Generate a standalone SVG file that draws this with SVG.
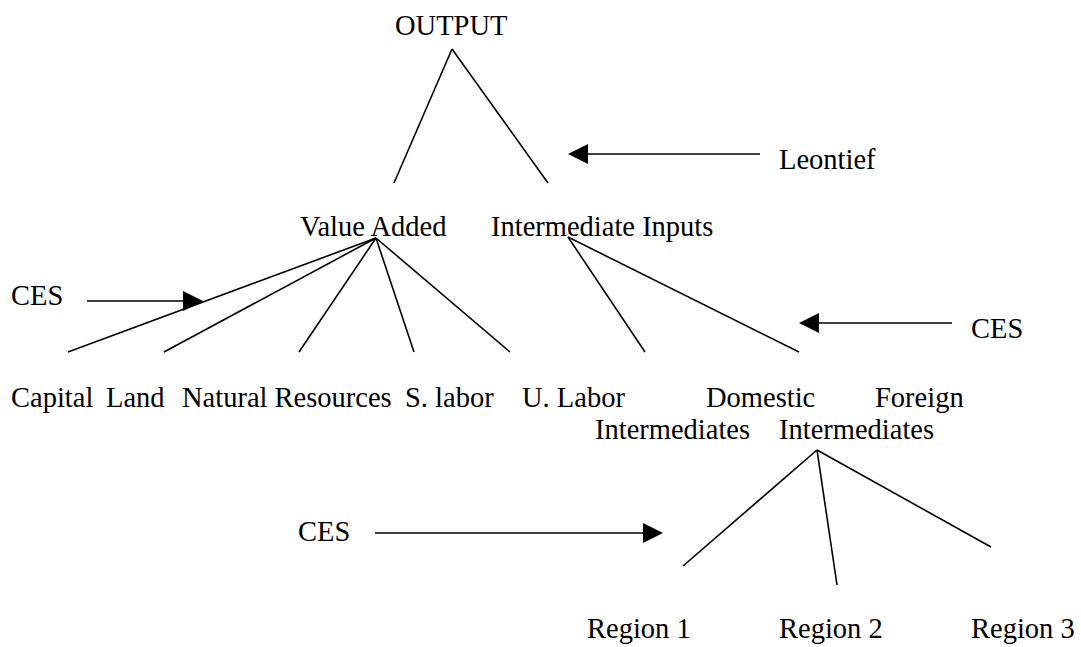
<svg xmlns="http://www.w3.org/2000/svg" width="1081" height="647" viewBox="0 0 1081 647">
<style>
text{font-family:"Liberation Serif","Times New Roman",serif;font-size:28.5px;fill:#000}
.c line{stroke:#000;stroke-width:1.6;fill:none}
.a{marker-end:url(#ah)}
</style>
<defs>
<marker id="ah" markerUnits="userSpaceOnUse" markerWidth="20" markerHeight="20" refX="10" refY="10" orient="auto">
<path d="M0,0 L20,10 L0,20 z" fill="#000"/>
</marker>
</defs>
<rect width="1081" height="647" fill="#fff"/>
<g id="output"><text x="395" y="35">OUTPUT</text></g>
<g id="leontief"><text x="779" y="169">Leontief</text></g>
<g id="value-added"><text x="300" y="236">Value Added</text></g>
<g id="intermediate-inputs"><text x="491" y="236">Intermediate Inputs</text></g>
<g id="ces-left"><text x="11" y="305">CES</text></g>
<g id="ces-right"><text x="971" y="338">CES</text></g>
<g id="capital"><text x="11" y="407">Capital</text></g>
<g id="land"><text x="106" y="407">Land</text></g>
<g id="natural-resources"><text x="182" y="407">Natural Resources</text></g>
<g id="s-labor"><text x="405" y="407">S. labor</text></g>
<g id="u-labor"><text x="522" y="407">U. Labor</text></g>
<g id="domestic-intermediates"><text x="706" y="407">Domestic</text><text x="595" y="439">Intermediates</text></g>
<g id="foreign-intermediates"><text x="875" y="407">Foreign</text><text x="779" y="439">Intermediates</text></g>
<g id="ces-bottom"><text x="298" y="541">CES</text></g>
<g id="region-1"><text x="587" y="638">Region 1</text></g>
<g id="region-2"><text x="779" y="638">Region 2</text></g>
<g id="region-3"><text x="971" y="638">Region 3</text></g>
<g id="connectors" class="c">
<line x1="452" y1="49" x2="394" y2="183"/>
<line x1="452" y1="49" x2="548" y2="183"/>
<line x1="376" y1="238" x2="68" y2="352"/>
<line x1="376" y1="238" x2="164" y2="352"/>
<line x1="376" y1="238" x2="299" y2="352"/>
<line x1="376" y1="238" x2="414" y2="352"/>
<line x1="376" y1="238" x2="510" y2="352"/>
<line x1="568" y1="237" x2="645" y2="352"/>
<line x1="568" y1="237" x2="799" y2="352"/>
<line x1="817" y1="450" x2="683" y2="566"/>
<line x1="817" y1="450" x2="837" y2="585"/>
<line x1="817" y1="450" x2="991" y2="547"/>
<line class="a" x1="760" y1="154" x2="578" y2="154"/>
<line class="a" x1="952" y1="323" x2="809" y2="323"/>
<line class="a" x1="87" y1="301" x2="193" y2="301"/>
<line class="a" x1="375" y1="533" x2="653" y2="533"/>
</g>
</svg>
